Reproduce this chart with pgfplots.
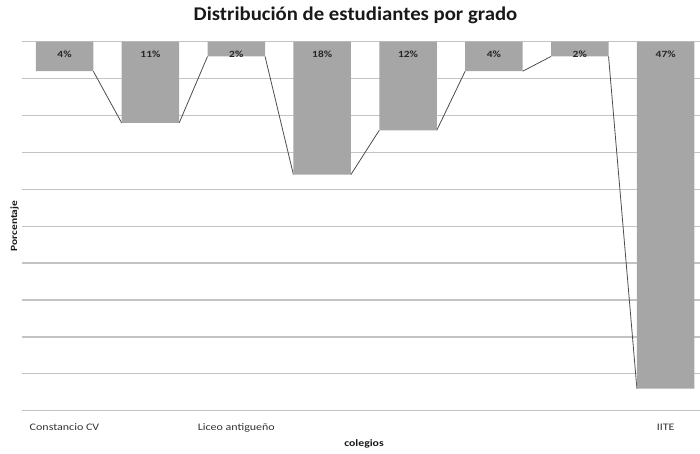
\documentclass[border=0pt]{standalone}
\usepackage{fontspec}
\setmainfont{Carlito}[FakeStretch=1.2]
\newfontfamily\titlefont{Carlito}[FakeStretch=1.07]
\usepackage{pgfplots}
\pgfplotsset{compat=1.18}
\definecolor{bargray}{HTML}{A6A6A6}
\definecolor{gridgray}{HTML}{C4C4C4}
\definecolor{linegray}{HTML}{4D4D4D}
\begin{document}
\begin{tikzpicture}[x=1pt,y=1pt]
\path[use as bounding box] (0,0) rectangle (700,454);
\begin{axis}[
  at={(21.6pt,43.3pt)}, anchor=south west,
  scale only axis, width=678.4pt, height=369pt,
  xmin=-0.5, xmax=7.4, ymin=0, ymax=50, y dir=reverse,
  axis line style={draw=none},
  tick style={draw=none}, major tick length=0pt,
  ytick={0,5,...,50}, yticklabels={},
  ymajorgrids, grid style={gridgray, line width=1.3pt},
  xtick={0,...,7},
  xticklabels={Constancio CV,,Liceo antigueño,,,,,IITE},
  xticklabel style={anchor=base, yshift=-19.5pt, font=\fontsize{10}{12}\selectfont, text=black!80},
  /pgf/number format/assume math mode=true,
  clip=false,
]
\addplot[linegray, line width=0.8pt, unbounded coords=jump] coordinates {
  (0.335,4) (0.665,11) (1,nan)
  (1.335,11) (1.665,2) (2,nan)
  (2.335,2) (2.665,18) (3,nan)
  (3.335,18) (3.665,12) (4,nan)
  (4.335,12) (4.665,4) (5,nan)
  (5.335,4) (5.665,2) (6,nan)
  (6.335,2) (6.665,47)
};
\addplot[ybar, bar width=57.5pt, fill=bargray, draw=none,
  visualization depends on={rawy \as \rawy},
  nodes near coords={\pgfmathprintnumber[assume math mode=true]{\rawy}\%},
  nodes near coords align=center,
  every node near coord/.append style={anchor=center, yshift=\rawy*7.38pt-12.5pt,
    font=\bfseries\fontsize{9.5}{11}\selectfont, text=black!85}]
  coordinates {(0,4) (1,11) (2,2) (3,18) (4,12) (5,4) (6,2) (7,47)};
\end{axis}
\node[anchor=base, font=\titlefont\bfseries\fontsize{19.4}{22}\selectfont, text=black!90] at (355.5,433.3) {Distribución de estudiantes por grado};
\node[anchor=base, font=\bfseries\fontsize{9.8}{12}\selectfont, text=black!90] at (364,7) {colegios};
\node[rotate=90, anchor=center, font=\bfseries\fontsize{9.5}{12}\selectfont, text=black!90] at (14.5,228) {Porcentaje};
\end{tikzpicture}
\end{document}
